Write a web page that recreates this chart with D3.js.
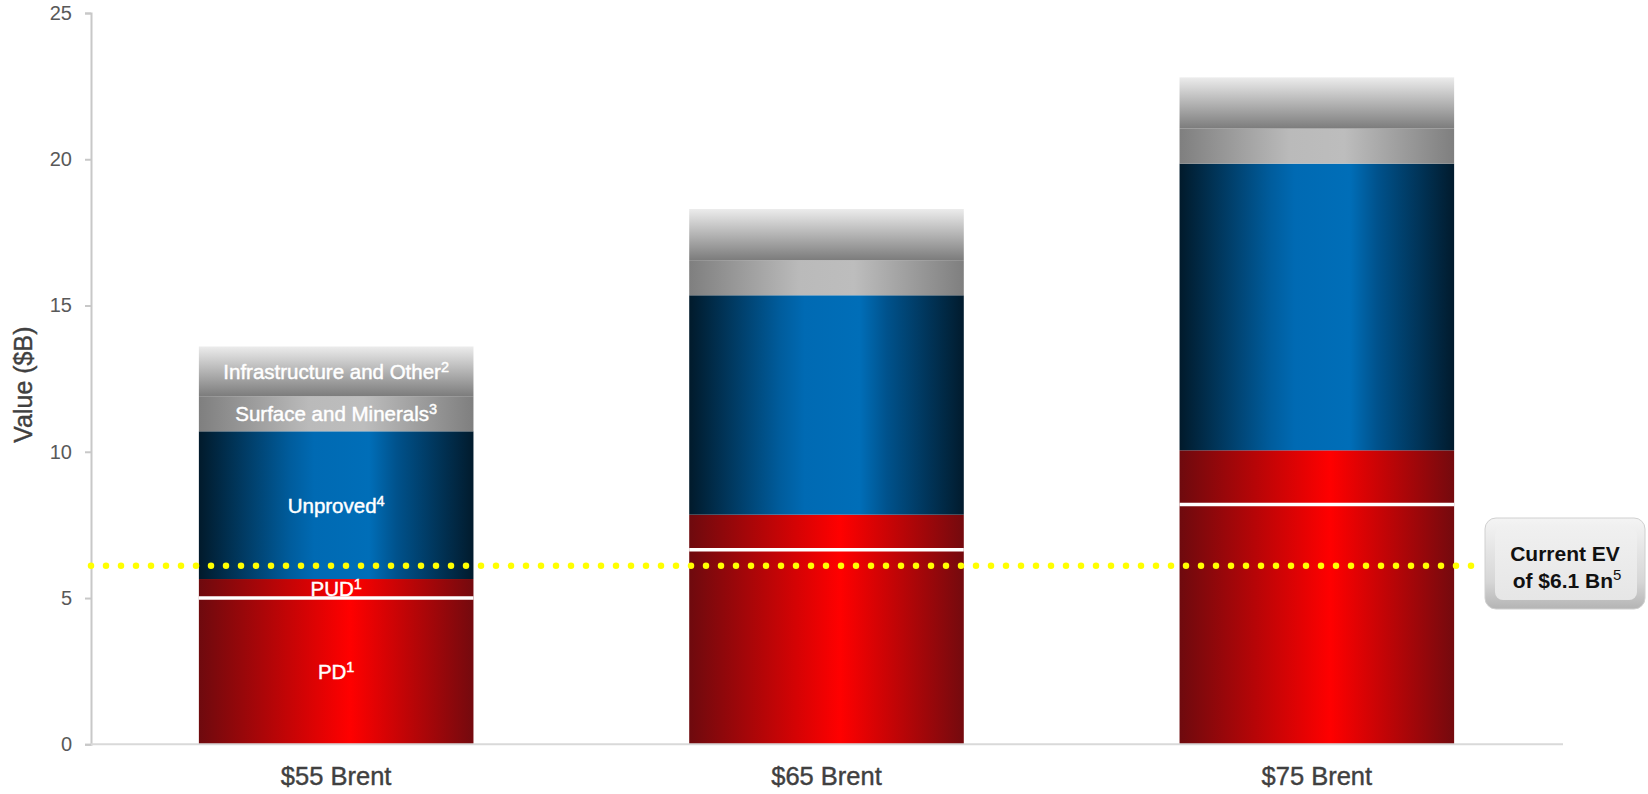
<!DOCTYPE html>
<html>
<head>
<meta charset="utf-8">
<script src="https://cdn.jsdelivr.net/npm/d3@7/dist/d3.min.js"></script>
<style>
  html, body { margin: 0; padding: 0; background: #fff; }
  svg { display: block; }
</style>
</head>
<body>
<svg id="chart" width="1648" height="794"></svg>
<script>
// Asset value at three oil price decks, stacked by component ($B)
const categories = ["$55 Brent", "$65 Brent", "$75 Brent"];
const pdValues        = [5.0, 6.65, 8.2];
const pudValues       = [0.65, 1.2, 1.85];
const unprovedValues  = [5.05, 7.5, 9.8];
const surfaceValues   = [1.2, 1.2, 1.2];
const infraValues     = [1.7, 1.75, 1.75];
const yTicks = [0, 5, 10, 15, 20, 25];
const currentEV = 6.1;

const seriesKeys = ["pd", "pud", "unproved", "surface", "infra"];
const seriesLabels = {
  pd:       ["PD", "1"],
  pud:      ["PUD", "1"],
  unproved: ["Unproved", "4"],
  surface:  ["Surface and Minerals", "3"],
  infra:    ["Infrastructure and Other", "2"]
};

const rows = categories.map((c, i) => ({
  category: c,
  pd: pdValues[i],
  pud: pudValues[i],
  unproved: unprovedValues[i],
  surface: surfaceValues[i],
  infra: infraValues[i]
}));

const svg = d3.select("#chart");
const defs = svg.append("defs");

// Horizontal "cylinder" gradients and vertical fades
function hGrad(id, stops) {
  const g = defs.append("linearGradient").attr("id", id)
    .attr("x1", "0%").attr("x2", "100%").attr("y1", "0%").attr("y2", "0%");
  stops.forEach(([o, c]) => g.append("stop").attr("offset", o).attr("stop-color", c));
}
function vGrad(id, stops) {
  const g = defs.append("linearGradient").attr("id", id)
    .attr("x1", "0%").attr("x2", "0%").attr("y1", "0%").attr("y2", "100%");
  stops.forEach(([o, c]) => g.append("stop").attr("offset", o).attr("stop-color", c));
}
hGrad("g-pd", [[0, "#6e0a0e"], [0.55, "#ff0000"], [1, "#740a0e"]]);
hGrad("g-pud", [[0, "#6e0a0e"], [0.55, "#ff0000"], [1, "#740a0e"]]);
hGrad("g-unproved", [[0, "#011a2b"], [0.33, "#005c9c"], [0.42, "#006ab3"], [0.62, "#006eb8"], [0.72, "#00528c"], [1, "#011b2d"]]);
hGrad("g-surface", [[0, "#7f7f7f"], [0.4, "#bababa"], [0.6, "#bdbdbd"], [1, "#7f7f7f"]]);
vGrad("g-infra", [[0, "#ececec"], [1, "#7c7c7c"]]);
vGrad("g-evframe", [[0, "#f4f4f4"], [0.7, "#d6d6d6"], [1, "#b4b4b4"]]);
vGrad("g-evinner", [[0, "#f0f0f0"], [1, "#e6e6e6"]]);

const x = d3.scaleBand().domain(categories).range([91, 1562])
  .paddingInner(0.44).paddingOuter(0.22);
const y = d3.scaleLinear().domain([0, 25]).range([744.3, 13]);

// Stacked bars
const stacked = d3.stack().keys(seriesKeys)(rows);
const layers = svg.append("g").selectAll("g").data(stacked).join("g")
  .attr("fill", d => `url(#g-${d.key})`);
layers.selectAll("rect").data(d => d.map(v => ({ key: d.key, v })))
  .join("rect")
  .attr("x", d => x(d.v.data.category))
  .attr("width", x.bandwidth())
  .attr("y", d => y(d.v[1]))
  .attr("height", d => y(d.v[0]) - y(d.v[1]));

// White divider on top of PD
const pdLayer = stacked.find(s => s.key === "pd");
svg.append("g").selectAll("line").data(pdLayer).join("line")
  .attr("x1", d => x(d.data.category))
  .attr("x2", d => x(d.data.category) + x.bandwidth())
  .attr("y1", d => y(d[1])).attr("y2", d => y(d[1]))
  .attr("stroke", "#ffffff").attr("stroke-width", 3.5);

// Axes
const axisColor = "#c8c8c8";
const baseFont = "'Liberation Sans', Arial, sans-serif";
const yAxis = svg.append("g").attr("transform", "translate(91,0)")
  .call(d3.axisLeft(y).tickValues(yTicks).tickSize(6).tickPadding(13));
yAxis.select(".domain").attr("stroke", axisColor).attr("stroke-width", 2);
yAxis.selectAll(".tick line").attr("stroke", axisColor).attr("stroke-width", 2);
yAxis.selectAll(".tick text")
  .attr("fill", "#595959")
  .style("font-family", baseFont)
  .style("font-size", "20px");

const xAxis = svg.append("g").attr("transform", `translate(0,${y(0)})`)
  .call(d3.axisBottom(x).tickSize(0).tickPadding(23));
xAxis.select(".domain").attr("stroke", "#d9d9d9").attr("stroke-width", 2)
  .attr("d", "M91,0H1563");
xAxis.selectAll(".tick text")
  .attr("fill", "#404040")
  .attr("stroke", "#404040").attr("stroke-width", 0.4)
  .style("font-family", baseFont)
  .style("font-size", "25.5px");

svg.append("text")
  .attr("transform", `translate(32,${y(12.5) + 6}) rotate(-90)`)
  .attr("text-anchor", "middle")
  .attr("fill", "#404040")
  .attr("stroke", "#404040").attr("stroke-width", 0.4)
  .style("font-family", baseFont)
  .style("font-size", "25px")
  .text("Value ($B)");

// Segment labels on the first bar
const firstCat = categories[0];
const labelData = stacked.map(s => ({ key: s.key, seg: s[0] }));
const labels = svg.append("g").selectAll("text").data(labelData).join("text")
  .attr("x", x(firstCat) + x.bandwidth() / 2)
  .attr("y", d => (y(d.seg[0]) + y(d.seg[1])) / 2 + 7.5)
  .attr("text-anchor", "middle")
  .attr("fill", "#ffffff")
  .attr("stroke", "#ffffff").attr("stroke-width", 0.45)
  .style("font-family", baseFont)
  .style("font-size", "20.5px");
labels.append("tspan").text(d => seriesLabels[d.key][0]);
labels.append("tspan").attr("dy", -7).style("font-size", "14.5px").text(d => seriesLabels[d.key][1]);

// Current enterprise value reference line
const evY = y(currentEV);
svg.append("line")
  .attr("x1", 91).attr("x2", 1484)
  .attr("y1", evY).attr("y2", evY)
  .attr("stroke", "#ffff00").attr("stroke-width", 6.5)
  .attr("stroke-linecap", "round")
  .attr("stroke-dasharray", "0 15");

// Callout box
const box = svg.append("g");
box.append("rect").attr("x", 1485).attr("y", 518).attr("width", 160).attr("height", 91)
  .attr("rx", 11).attr("fill", "url(#g-evframe)").attr("stroke", "#d0d0d0").attr("stroke-width", 1);
box.append("rect").attr("x", 1495).attr("y", 527).attr("width", 142).attr("height", 73)
  .attr("rx", 8).attr("fill", "url(#g-evinner)");
box.append("text").attr("x", 1565).attr("y", 561).attr("text-anchor", "middle")
  .attr("fill", "#111").style("font-family", baseFont).style("font-size", "21px")
  .style("font-weight", "bold").text("Current EV");
const line2 = box.append("text").attr("x", 1567).attr("y", 587.5).attr("text-anchor", "middle")
  .attr("fill", "#111").style("font-family", baseFont).style("font-size", "21px")
  .style("font-weight", "bold");
line2.append("tspan").text(`of $${currentEV} Bn`);
line2.append("tspan").attr("dy", -7.5).style("font-size", "15px").style("font-weight", "normal").text("5");
</script>
</body>
</html>
